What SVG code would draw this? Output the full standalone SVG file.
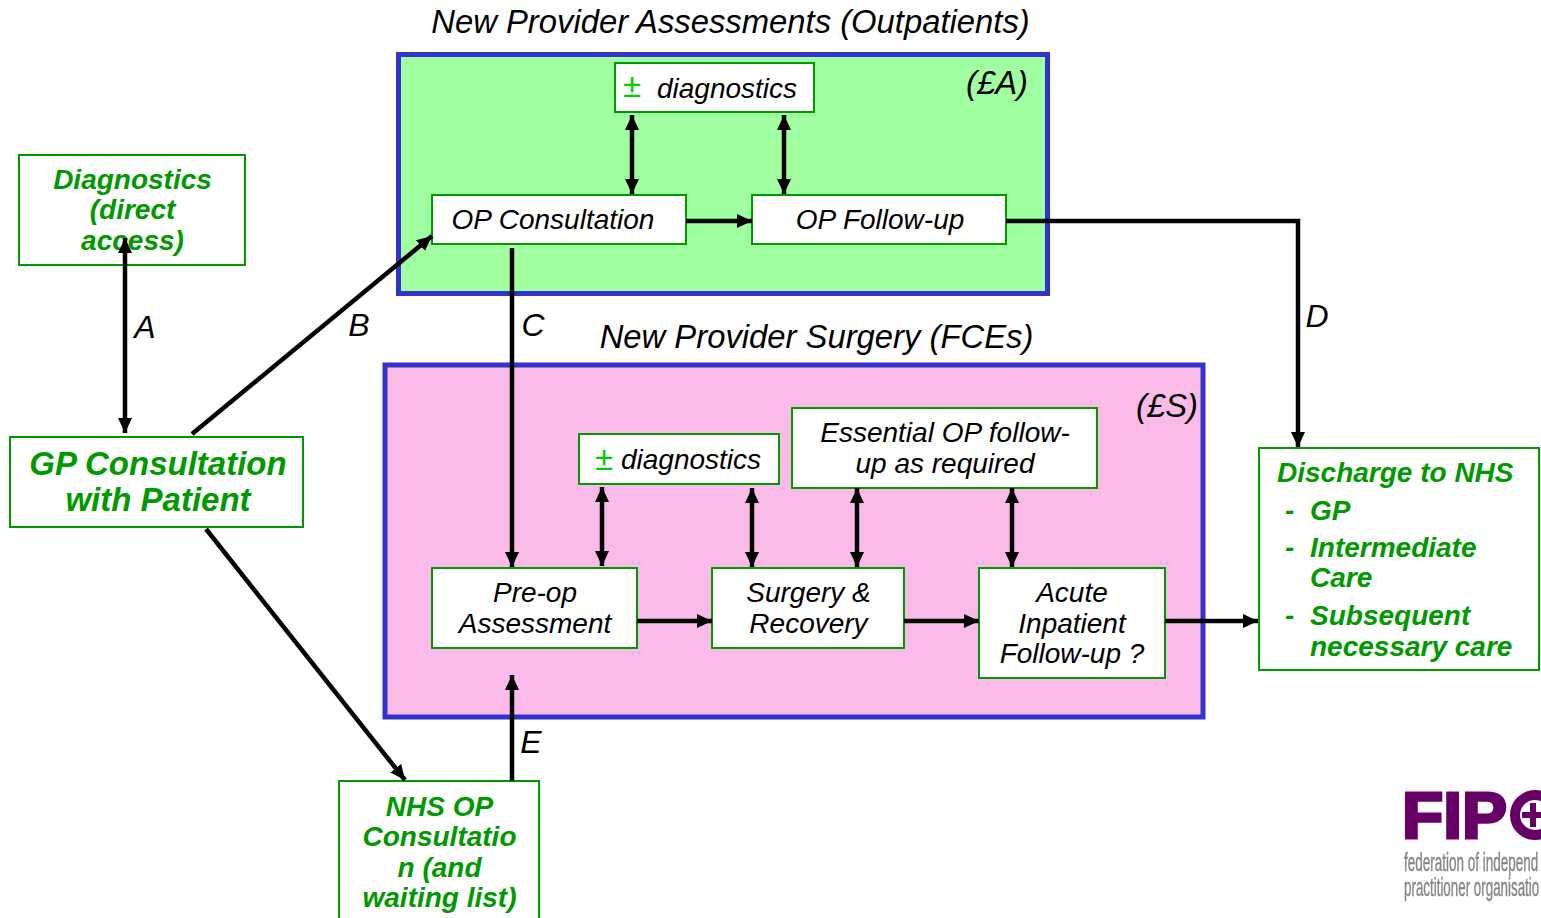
<svg xmlns="http://www.w3.org/2000/svg" width="1541" height="918" viewBox="0 0 1541 918">
<style>
text{font-family:"Liberation Sans",Arial,sans-serif;font-style:italic;fill:#000;text-anchor:middle}
.box{fill:#fff;stroke:#009900;stroke-width:2}
.t{font-size:28px}
.g{font-size:28px;font-weight:bold;fill:#009900}
.s{text-anchor:start}
.gl{font-size:33px;font-weight:bold;fill:#009900}
.h{font-size:32.800px}
.lab{font-size:32px}
.pm{fill:#00cc00;font-size:33px;font-style:normal}
.c{stroke:#000;stroke-width:4.500;fill:none}
.l{font-style:normal;fill:#858585;text-anchor:start;font-size:25px;stroke:#858585;stroke-width:.4}
</style>
<defs>
<marker id="a" markerUnits="userSpaceOnUse" markerWidth="16" markerHeight="16" refX="15" refY="8" orient="auto"><path d="M0,1L15,8L0,15Z" fill="#000"/></marker>
<marker id="b" markerUnits="userSpaceOnUse" markerWidth="16" markerHeight="16" refX="1" refY="8" orient="auto"><path d="M16,1L1,8L16,15Z" fill="#000"/></marker>
<filter id="soft" x="-5%" y="-5%" width="110%" height="110%"><feGaussianBlur stdDeviation="0.600"/></filter>
</defs>
<rect width="1541" height="918" fill="#fff"/>
<g id="provider-assessments">
<rect x="398.500" y="54.500" width="649" height="239" fill="#a0ffa0" stroke="#3333cc" stroke-width="5"/>
<text class="h" x="730.500" y="33">New Provider Assessments (Outpatients)</text>
<text class="h" x="997" y="94">(£A)</text>
</g>
<g id="provider-surgery">
<rect x="385" y="365" width="818" height="352" fill="#fbbbe8" stroke="#3333cc" stroke-width="5"/>
<text class="h" x="816.500" y="348">New Provider Surgery (FCEs)</text>
<text class="h" x="1167" y="417">(£S)</text>
</g>
<g id="diagnostics-a"><rect class="box" x="615" y="63" width="199" height="49"/><text class="pm" x="632" y="97">±</text><text class="t" x="727" y="98">diagnostics</text></g>
<g id="op-consultation"><rect class="box" x="432" y="195" width="254" height="49"/><text class="t" x="553" y="229">OP Consultation</text></g>
<g id="op-followup"><rect class="box" x="752" y="195" width="254" height="49"/><text class="t" x="880" y="229">OP Follow-up</text></g>
<g id="diagnostics-direct"><rect class="box" x="19" y="155" width="226" height="110"/><text class="g" x="132.500" y="189">Diagnostics</text><text class="g" x="132.500" y="219">(direct</text><text class="g" x="132.500" y="250">access)</text></g>
<g id="gp-consultation"><rect class="box" x="10" y="437" width="293" height="90"/><text class="gl" x="158" y="475">GP Consultation</text><text class="gl" x="158" y="511">with Patient</text></g>
<g id="diagnostics-s"><rect class="box" x="579" y="434" width="200" height="50"/><text class="pm" x="604" y="470">±</text><text class="t" x="691" y="469">diagnostics</text></g>
<g id="essential"><rect class="box" x="792" y="408" width="305" height="80"/><text class="t" x="945" y="442">Essential OP follow-</text><text class="t" x="945" y="473">up as required</text></g>
<g id="preop"><rect class="box" x="432" y="568" width="205" height="80"/><text class="t" x="535" y="602">Pre-op</text><text class="t" x="535" y="633">Assessment</text></g>
<g id="surgery"><rect class="box" x="712" y="568" width="192" height="80"/><text class="t" x="808.500" y="602">Surgery &amp;</text><text class="t" x="808.500" y="633">Recovery</text></g>
<g id="acute"><rect class="box" x="979" y="568" width="186" height="110"/><text class="t" x="1072" y="602">Acute</text><text class="t" x="1072" y="633">Inpatient</text><text class="t" x="1072" y="663">Follow-up ?</text></g>
<g id="discharge"><rect class="box" x="1259" y="448" width="280" height="222"/>
<text class="g s" x="1277" y="482">Discharge to NHS</text>
<text class="g s" x="1285" y="520">-</text><text class="g s" x="1310" y="520">GP</text>
<text class="g s" x="1285" y="557">-</text><text class="g s" x="1310" y="557">Intermediate</text>
<text class="g s" x="1310" y="587">Care</text>
<text class="g s" x="1285" y="625">-</text><text class="g s" x="1310" y="625">Subsequent</text>
<text class="g s" x="1310" y="656">necessary care</text></g>
<g id="nhs-op"><rect class="box" x="339" y="781" width="200" height="150"/><text class="g" x="439.500" y="816">NHS OP</text><text class="g" x="439.500" y="846">Consultatio</text><text class="g" x="439.500" y="877">n (and</text><text class="g" x="439.500" y="907">waiting list)</text></g>
<g id="connectors">
<path class="c" marker-start="url(#b)" marker-end="url(#a)" d="M632,115V194"/>
<path class="c" marker-start="url(#b)" marker-end="url(#a)" d="M784,115V194"/>
<path class="c" marker-end="url(#a)" d="M686,221H752"/>
<path class="c" marker-end="url(#a)" d="M1006,221H1298V447"/>
<path class="c" marker-start="url(#b)" marker-end="url(#a)" d="M125,238V433"/>
<path class="c" marker-end="url(#a)" d="M192,434L432,236"/>
<path class="c" marker-end="url(#a)" d="M512,248V567"/>
<path class="c" marker-end="url(#a)" d="M206,529L405,780"/>
<path class="c" marker-end="url(#a)" d="M512,781V675"/>
<path class="c" marker-start="url(#b)" marker-end="url(#a)" d="M602,487V566"/>
<path class="c" marker-start="url(#b)" marker-end="url(#a)" d="M752,488V567"/>
<path class="c" marker-start="url(#b)" marker-end="url(#a)" d="M857,488V567"/>
<path class="c" marker-start="url(#b)" marker-end="url(#a)" d="M1012,488V567"/>
<path class="c" marker-end="url(#a)" d="M637,621H712"/>
<path class="c" marker-end="url(#a)" d="M904,621H979"/>
<path class="c" marker-end="url(#a)" d="M1165,621H1258"/>
</g>
<g id="labels">
<text class="lab" x="145" y="338">A</text><text class="lab" x="359" y="336">B</text><text class="lab" x="533" y="336">C</text><text class="lab" x="1317" y="327">D</text><text class="lab" x="531" y="753">E</text>
</g>
<g id="logo" filter="url(#soft)">
<text x="1402" y="838" style="font-size:65px;font-weight:bold;font-style:normal;text-anchor:start;fill:#660066;stroke:#660066;stroke-width:3" textLength="105" lengthAdjust="spacingAndGlyphs">FIP</text>
<circle cx="1535" cy="815" r="20" fill="#fff" stroke="#660066" stroke-width="10"/>
<path d="M1533,803V827M1522,815H1541" stroke="#660066" stroke-width="6"/>
<text class="l" transform="translate(1404,871) scale(.54,1)">federation of independ</text>
<text class="l" transform="translate(1404,896) scale(.535,1)">practitioner organisatio</text>
</g>
</svg>
